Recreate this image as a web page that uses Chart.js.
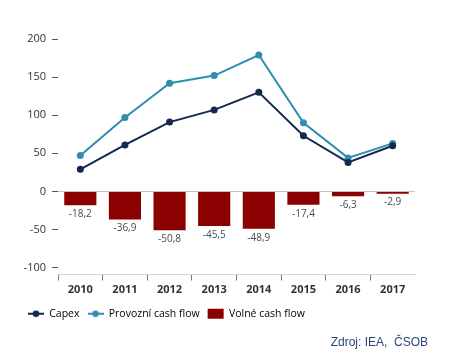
<!DOCTYPE html>
<html><head><meta charset="utf-8">
<script src="https://cdn.jsdelivr.net/npm/chart.js@4/dist/chart.umd.min.js"></script>
<style>
html,body{margin:0;padding:0;background:#fff;}
#wrap{position:relative;width:458px;height:357px;}
#src{position:absolute;right:30px;top:335px;font:12px "Liberation Sans",Arial,sans-serif;color:#2a4677;}
</style></head>
<body>
<div id="wrap"><canvas id="c" width="458" height="357"></canvas><div id="src">Zdroj: IEA,&nbsp; ČSOB</div></div>
<script>
const years = ['2010','2011','2012','2013','2014','2015','2016','2017'];
const capex = [29, 61, 91, 107, 130, 73, 38, 60];
const provozni = [47, 97, 142, 152, 179, 90, 44, 63];
const volne = [-18.2, -36.9, -50.8, -45.5, -48.9, -17.4, -6.3, -2.9];
const yTicks = [-100, -50, 0, 50, 100, 150, 200];

const C_CAPEX = '#13294f', C_PROV = '#2f8db0', C_VOLNE = '#8b0000';
const FONT = '"Open Sans", sans-serif';

function lineIcon(color){
  const cv = document.createElement('canvas'); cv.width = 16; cv.height = 8;
  const x = cv.getContext('2d');
  x.strokeStyle = color; x.lineWidth = 2;
  x.beginPath(); x.moveTo(0,4); x.lineTo(16,4); x.stroke();
  x.fillStyle = color; x.beginPath(); x.arc(8,4,3.3,0,Math.PI*2); x.fill();
  return cv;
}
const icons = [lineIcon(C_CAPEX), lineIcon(C_PROV)];

const barLabels = {
  id:'barLabels',
  afterDatasetsDraw(chart){
    const meta = chart.getDatasetMeta(2);
    const c = chart.ctx;
    c.save();
    c.font = '10px ' + FONT;
    c.fillStyle = '#4a4a4a';
    c.textAlign = 'center'; c.textBaseline = 'middle';
    meta.data.forEach((el,i)=>{
      c.fillText(String(volne[i]).replace('.', ','), el.x, el.y + 9);
    });
    c.restore();
  }
};

new Chart(document.getElementById('c'), {
  data: {
    labels: years,
    datasets: [
      {type:'line', label:'Capex', data:capex, borderColor:C_CAPEX, backgroundColor:C_CAPEX, borderWidth:2, pointRadius:3.5, pointBackgroundColor:C_CAPEX, pointBorderWidth:0, order:0, tension:0},
      {type:'line', label:'Provozní cash flow', data:provozni, borderColor:C_PROV, backgroundColor:C_PROV, borderWidth:2, pointRadius:3.5, pointBackgroundColor:C_PROV, pointBorderWidth:0, order:1, tension:0},
      {type:'bar', label:'Volné cash flow', data:volne, backgroundColor:C_VOLNE, categoryPercentage:1, barPercentage:0.72, order:2}
    ]
  },
  options: {
    responsive:false, animation:false,
    layout:{padding:{top:39, right:43, bottom:28, left:20}},
    plugins:{
      tooltip:{enabled:false},
      legend:{
        position:'bottom', align:'start',
        labels:{
          usePointStyle:true, pointStyleWidth:16, boxHeight:10, padding:8,
          font:{size:10.5, family:FONT}, color:'#7a7a7a',
          generateLabels(chart){
            return chart.data.datasets.map((d,i)=>({
              text:d.label, fillStyle:d.backgroundColor, strokeStyle:d.backgroundColor,
              lineWidth:0, pointStyle: i<2 ? icons[i] : 'rect', datasetIndex:i, hidden:false
            }));
          }
        }
      }
    },
    scales:{
      x:{
        offset:true,
        afterFit(scale){ scale.height = 26; },
        grid:{offset:true, drawOnChartArea:false, tickLength:6,
          tickColor:(ctx)=> ctx.tick ? '#777' : 'rgba(0,0,0,0)'},
        border:{display:true, color:'#d4d4d4'},
        ticks:{font:{size:11, weight:'bold', family:FONT}, color:'#333', padding:3}
      },
      y:{
        min:-109, max:200,
        afterBuildTicks(scale){ scale.ticks = yTicks.map(v=>({value:v})); },
        afterFit(scale){ scale.width = 38; },
        grid:{
          tickLength:6,
          color:(ctx)=> ctx.tick && ctx.tick.value===0 ? '#c4c4c4' : 'rgba(0,0,0,0)',
          tickColor:'#555'
        },
        border:{display:false},
        ticks:{font:{size:11, family:FONT}, color:'#333', padding:6,
          callback:(v)=>String(v)}
      }
    }
  },
  plugins:[barLabels]
});
</script>
</body></html>
